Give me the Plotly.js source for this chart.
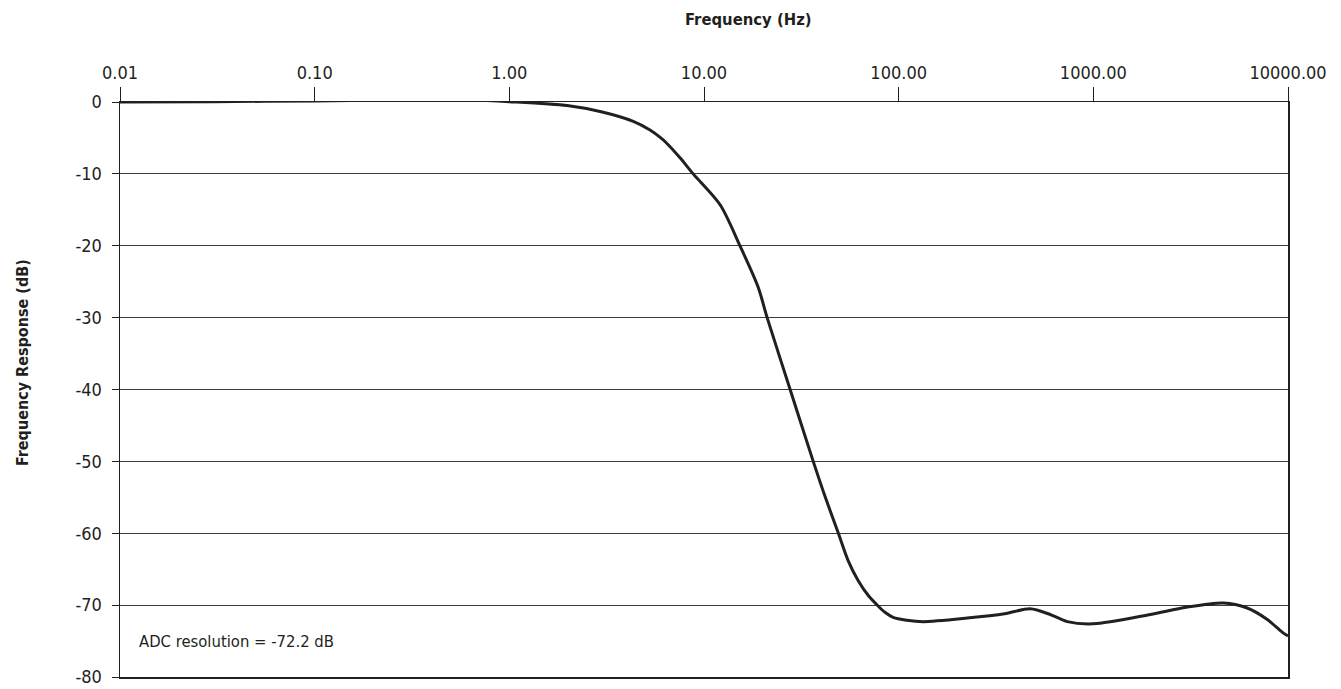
<!DOCTYPE html>
<html>
<head>
<meta charset="utf-8">
<script src="https://cdn.plot.ly/plotly-3.0.1.min.js"></script>
<style>
html,body{margin:0;padding:0;background:#fff;}
#chart{width:1341px;height:689px;}
</style>
</head>
<body>
<div id="chart"></div>
<script>
// Frequency (Hz) and response (dB)
const freqHz = [0.01, 0.03, 0.1, 0.3, 0.55, 1.0, 1.98, 3.0, 4.33, 5.28, 6.0, 6.47, 7.55, 8.8, 12.1, 15.3, 19.0, 21.1, 27.7, 36.4, 42, 49.0, 55, 62, 70, 77.6, 85, 93.7, 110, 133.7, 225, 350, 474, 600, 735, 1000, 1963, 3000, 4660, 6170, 7830, 9470, 10000];
const responseDb = [0, 0.05, 0.15, 0.3, 0.35, 0.05, -0.5, -1.4, -2.7, -3.9, -5.0, -5.8, -7.8, -10, -14.3, -20, -25.8, -30, -40, -50, -55, -60, -63.8, -66.6, -68.7, -70, -71, -71.7, -72.1, -72.3, -71.8, -71.2, -70.5, -71.3, -72.3, -72.6, -71.3, -70.3, -69.7, -70.4, -72.0, -73.9, -74.3];

const xTickVals = [0.01, 0.1, 1, 10, 100, 1000, 10000];
const xTickText = ['0.01', '0.10', '1.00', '10.00', '100.00', '1000.00', '10000.00'];
const yTickVals = [0, -10, -20, -30, -40, -50, -60, -70, -80];
const yTickText = ['0', '-10', '-20', '-30', '-40', '-50', '-60', '-70', '-80'];

const xTitle = 'Frequency (Hz)';
const yTitle = 'Frequency Response (dB)';
const noteText = 'ADC resolution = -72.2 dB';

const FONT = '"DejaVu Sans Condensed", "Liberation Sans Narrow", sans-serif';
const INK = '#231f20';

const trace = {
  x: freqHz,
  y: responseDb,
  type: 'scatter',
  mode: 'lines',
  line: {color: INK, width: 3, shape: 'spline', smoothing: 0.8},
  hoverinfo: 'x+y',
  showlegend: false
};

const layout = {
  width: 1341,
  height: 689,
  margin: {l: 120, r: 53, t: 102, b: 12},
  paper_bgcolor: '#ffffff',
  plot_bgcolor: '#ffffff',
  font: {family: FONT, color: INK, size: 18},
  xaxis: {
    type: 'log',
    range: [-2, 4],
    side: 'top',
    tickmode: 'array',
    tickvals: xTickVals,
    ticktext: xTickText,
    ticks: 'outside',
    ticklen: 14,
    tickwidth: 1,
    tickcolor: INK,
    tickfont: {family: FONT, size: 18, color: INK},
    showgrid: false,
    zeroline: false,
    showline: true,
    mirror: true,
    linecolor: INK,
    linewidth: 1.5,
    fixedrange: true
  },
  yaxis: {
    range: [-80, 0],
    tickmode: 'array',
    tickvals: yTickVals,
    ticktext: yTickText,
    ticks: 'outside',
    ticklen: 7,
    tickwidth: 1,
    tickcolor: INK,
    ticklabelstandoff: 6,
    tickfont: {family: FONT, size: 18, color: INK},
    showgrid: true,
    gridcolor: '#3a3a3a',
    gridwidth: 1,
    zeroline: false,
    showline: true,
    mirror: true,
    linecolor: INK,
    linewidth: 1.5,
    fixedrange: true
  },
  annotations: [
    {
      text: '<b>' + xTitle + '</b>',
      xref: 'paper', yref: 'paper',
      x: 0.538, y: 1.143,
      xanchor: 'center', yanchor: 'middle',
      showarrow: false,
      font: {family: FONT, size: 16.5, color: INK}
    },
    {
      text: '<b>' + yTitle + '</b>',
      xref: 'paper', yref: 'paper',
      x: -0.0839, y: 0.546,
      xanchor: 'center', yanchor: 'middle',
      textangle: -90,
      showarrow: false,
      font: {family: FONT, size: 16, color: INK}
    },
    {
      text: noteText,
      xref: 'paper', yref: 'y',
      x: 0.0146, y: -75,
      xanchor: 'left', yanchor: 'middle',
      showarrow: false,
      font: {family: FONT, size: 16.5, color: INK}
    }
  ]
};

Plotly.newPlot('chart', [trace], layout, {displayModeBar: false, staticPlot: true});
</script>
</body>
</html>
